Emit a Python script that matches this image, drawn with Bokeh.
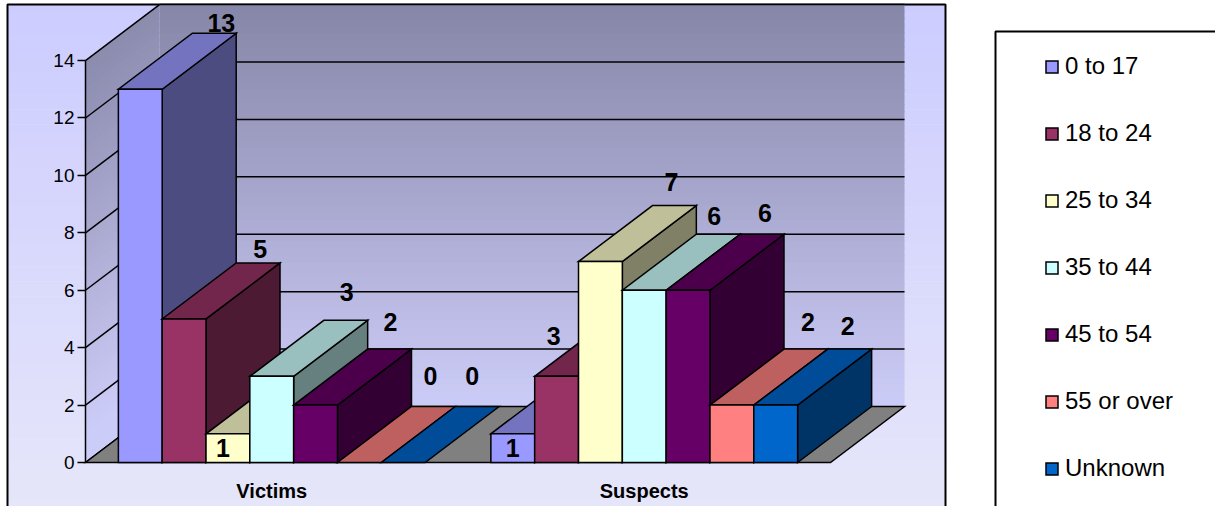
import numpy as np
from bokeh.plotting import figure
from bokeh.models import (ColumnDataSource, Range1d, LinearAxis, FixedTicker,
                          Legend, LegendItem)
from bokeh.embed import file_html
from bokeh.resources import INLINE

# ---------------- data ----------------
CATEGORIES = ["Victims", "Suspects"]
SERIES = ["0 to 17", "18 to 24", "25 to 34", "35 to 44", "45 to 54", "55 or over", "Unknown"]
VICTIMS = [13, 5, 1, 3, 2, 0, 0]
SUSPECTS = [1, 3, 7, 6, 6, 2, 2]
Y_TICKS = [0, 2, 4, 6, 8, 10, 12, 14]

# ---------------- style ----------------
FRONT = ["#9999ff", "#993366", "#ffffcc", "#ccffff", "#660066", "#ff8080", "#0066cc"]
FONT = "Liberation Sans"
# per-label nudges (screen px) relative to the top-back centre of each bar
LABEL_DX = [7, 2, -79, 1, 1, -3, -5, -74, -77, -3, -4, 3, 2, -2]
LABEL_DY = [-10, -14, 70, -28, -27, -31, -31, 70, 16, -24, -18, -21, -27, -23]

W, H = 1215, 506
X0_PX, CAT_PX = 85.0, 372.5        # value-axis position, width of a category
Y0_PX, UNIT_PX = 462.0, 28.71      # floor line, px per unit
DEPTH_X_PX, DEPTH_Y_PX = 74.0, 56.0


def px2x(px):
    return (px - X0_PX) / CAT_PX


def px2y(py):
    return (Y0_PX - py) / UNIT_PX


def hex2rgb(h):
    h = h.lstrip("#")
    return tuple(int(h[i:i + 2], 16) for i in (0, 2, 4))


def rgb2hex(c):
    return "#%02x%02x%02x" % tuple(int(round(max(0, min(255, v)))) for v in c)


def shade(h, f):
    return rgb2hex([v * f for v in hex2rgb(h)])


def lerp(c0, c1, t):
    t = max(0.0, min(1.0, t))
    return rgb2hex([a + (b - a) * t for a, b in zip(c0, c1)])


D = DEPTH_X_PX / CAT_PX
DY = DEPTH_Y_PX / UNIT_PX
YMAX = max(Y_TICKS)
NCAT = len(CATEGORIES)
NSER = len(SERIES)
BAR_W = 1.0 / (NSER + 1.5)
GAP = 0.75 * BAR_W

p = figure(width=W, height=H,
           x_range=Range1d(px2x(0), px2x(W)), y_range=Range1d(px2y(H), px2y(0)),
           x_axis_location=None, y_axis_location=None,
           toolbar_location=None, output_backend="svg", min_border=0,
           outline_line_color=None, background_fill_color="white",
           border_fill_color="white")
p.grid.visible = False

# ---- chart area background (gradient) ----
BG_TOP, BG_BOT = (204, 204, 255), (230, 230, 250)
edges = np.linspace(4, 520, 70)
bg = dict(top=[], bottom=[], color=[])
for a, b in zip(edges[:-1], edges[1:]):
    bg["top"].append(px2y(a))
    bg["bottom"].append(px2y(b + 0.6))
    bg["color"].append(lerp(BG_TOP, BG_BOT, ((a + b) / 2 - 4) / (506 - 4)))
p.quad(left=px2x(7), right=px2x(945), top="top", bottom="bottom",
       fill_color="color", line_color=None, source=ColumnDataSource(bg))
p.quad(left=px2x(7), right=px2x(945), top=px2y(4), bottom=px2y(530),
       fill_color=None, line_color="black", line_width=2)

# ---- walls (gradient) ----
WALL_TOP, WALL_BOT = (134, 134, 168), (204, 204, 248)
wall_top_px = Y0_PX - (YMAX + DY) * UNIT_PX
wall_bot_px = Y0_PX - DY * UNIT_PX


def wall_color(py):
    return lerp(WALL_TOP, WALL_BOT, (py - wall_top_px) / (wall_bot_px - wall_top_px))


lv = np.linspace(0, YMAX, 57)
back = dict(top=[], bottom=[], color=[])
side = dict(xs=[], ys=[], color=[])
for a, b in zip(lv[:-1], lv[1:]):
    b2 = min(b + 0.03, YMAX)
    back["bottom"].append(a + DY)
    back["top"].append(b2 + DY)
    back["color"].append(wall_color(Y0_PX - ((a + b) / 2 + DY) * UNIT_PX))
    side["xs"].append([0, D, D, 0])
    side["ys"].append([a, a + DY, b2 + DY, b2])
    side["color"].append(wall_color(Y0_PX - ((a + b) / 2 + DY / 2) * UNIT_PX))
p.quad(left=D, right=NCAT + D, top="top", bottom="bottom", fill_color="color",
       line_color=None, source=ColumnDataSource(back))
p.patches(xs="xs", ys="ys", fill_color="color", line_color=None,
          source=ColumnDataSource(side))

# gridlines on back wall and side wall
p.segment(x0=D, x1=NCAT + D, y0=[v + DY for v in Y_TICKS[1:]],
          y1=[v + DY for v in Y_TICKS[1:]], line_color="black", line_width=1.5)
p.segment(x0=0, x1=D, y0=Y_TICKS, y1=[v + DY for v in Y_TICKS],
          line_color="black", line_width=1.5)

# floor
p.patch(x=[0, NCAT, NCAT + D, D], y=[0, 0, DY, DY], fill_color="#808080",
        line_color="black", line_width=1.5, line_join="miter")

# ---- 3D bars ----
bars = dict(xs=[], ys=[], color=[])
front_index = {}
labels = dict(x=[], y=[], text=[], dx=[], dy=[])
k = 0
for g, vals in enumerate([VICTIMS, SUSPECTS]):
    for i, v in enumerate(vals):
        x0 = g + GAP + i * BAR_W
        x1 = x0 + BAR_W
        if v > 0:
            bars["xs"].append([x1, x1 + D, x1 + D, x1])
            bars["ys"].append([0, DY, v + DY, v])
            bars["color"].append(shade(FRONT[i], 0.5))
        bars["xs"].append([x0, x1, x1 + D, x0 + D])
        bars["ys"].append([v, v, v + DY, v + DY])
        bars["color"].append(shade(FRONT[i], 0.75))
        if v > 0:
            bars["xs"].append([x0, x1, x1, x0])
            bars["ys"].append([0, 0, v, v])
            bars["color"].append(FRONT[i])
            front_index.setdefault(i, len(bars["xs"]) - 1)
        labels["x"].append(x0 + BAR_W / 2 + D)
        labels["y"].append(v + DY)
        labels["text"].append(str(v))
        labels["dx"].append(LABEL_DX[k])
        labels["dy"].append(LABEL_DY[k])
        k += 1

bar_r = p.patches(xs="xs", ys="ys", fill_color="color", line_color="black",
                  line_width=1.5, line_join="miter", source=ColumnDataSource(bars))

p.text(x="x", y="y", text="text", x_offset="dx", y_offset="dy",
       text_align="center", text_baseline="middle", text_font={"value": FONT},
       text_font_size="25px", text_font_style="bold", text_color="black",
       source=ColumnDataSource(labels))

# ---- axes ----
yaxis = LinearAxis(fixed_location=0, bounds=(0, YMAX), ticker=FixedTicker(ticks=Y_TICKS),
                   major_tick_in=0, major_tick_out=8, minor_tick_in=0, minor_tick_out=0,
                   axis_line_width=1.5, major_tick_line_width=1.5,
                   major_label_text_font=FONT, major_label_text_font_size="19px",
                   major_label_standoff=3, major_label_text_color="black")
p.add_layout(yaxis, "left")

cat_ticks = [g + 0.5 for g in range(NCAT)]
xaxis = LinearAxis(fixed_location=0, ticker=FixedTicker(ticks=cat_ticks),
                   major_label_overrides={t: c for t, c in zip(cat_ticks, CATEGORIES)},
                   axis_line_color=None, major_tick_line_color=None,
                   minor_tick_line_color=None, major_tick_in=0, major_tick_out=0,
                   major_label_text_font=FONT, major_label_text_font_style="bold",
                   major_label_text_font_size="20px", major_label_standoff=17,
                   major_label_text_color="black")
p.add_layout(xaxis, "below")

# ---- legend ----
p.quad(left=px2x(995), right=px2x(1240), top=px2y(31), bottom=px2y(530),
       fill_color="white", line_color="black", line_width=2)
items = [LegendItem(label=s, renderers=[bar_r], index=front_index[i])
         for i, s in enumerate(SERIES)]
legend = Legend(items=items, location=(1044, 23), orientation="vertical",
                glyph_width=15, glyph_height=15, label_height=30, label_width=20,
                spacing=37, padding=0, margin=0, label_standoff=6,
                label_text_font=FONT, label_text_font_size="24px",
                label_text_color="black", border_line_color=None,
                background_fill_alpha=0)
p.add_layout(legend)

open("out.html", "w").write(file_html(p, INLINE))
